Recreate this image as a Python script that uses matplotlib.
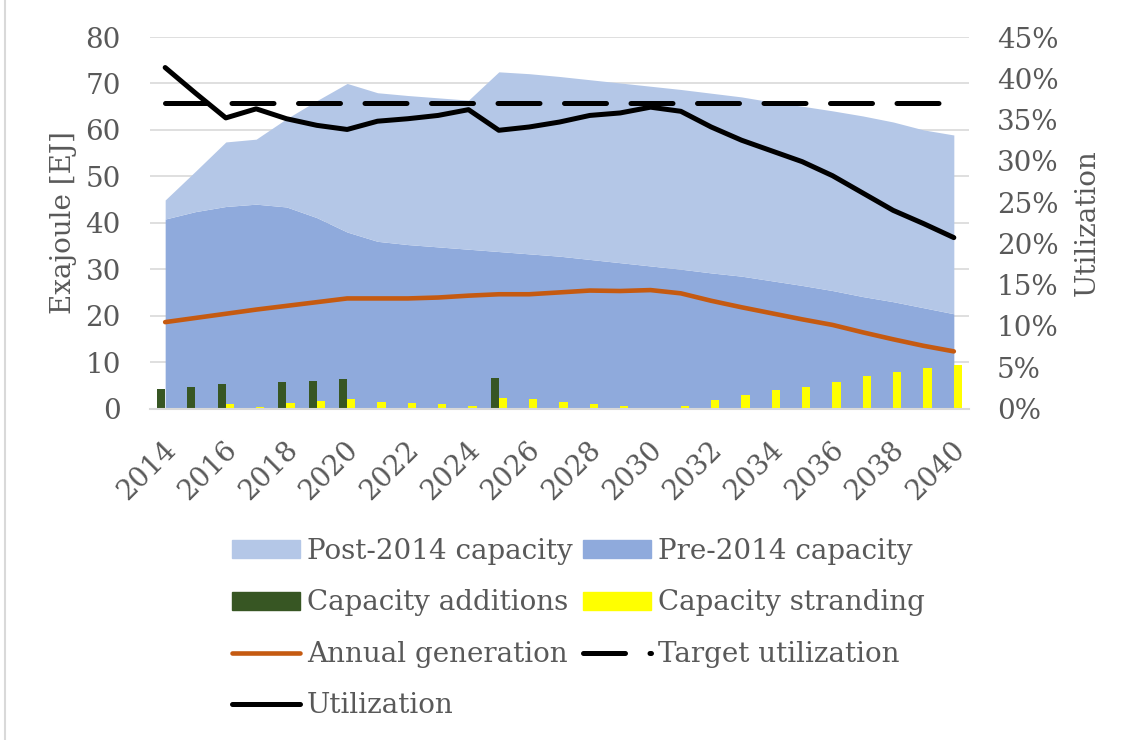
import numpy as np
import matplotlib
matplotlib.use("Agg")
import matplotlib.pyplot as plt
import matplotlib.transforms as mtransforms
from matplotlib.patches import Patch, Rectangle
from matplotlib.lines import Line2D
from matplotlib.ticker import FuncFormatter, MultipleLocator

plt.rcParams['font.family'] = ['DejaVu Serif']

# Datos
years = list(range(2014, 2041))
pre_2014 = [40.8, 42.4, 43.5, 44.0, 43.4, 41.1, 38.0, 36.0, 35.3, 34.8, 34.3, 33.8, 33.3, 32.8,
            32.1, 31.4, 30.7, 30.0, 29.2, 28.5, 27.5, 26.5, 25.4, 24.1, 23.0, 21.7, 20.4]
post_2014 = [4.1, 8.7, 13.9, 14.0, 19.0, 25.2, 32.0, 32.0, 32.1, 32.1, 32.1, 38.7, 38.8, 38.7,
             38.7, 38.7, 38.7, 38.7, 38.7, 38.6, 38.5, 38.6, 38.7, 38.9, 38.7, 38.3, 38.5]
additions = [4.1, 4.6, 5.2, 0, 5.7, 6.0, 6.25, 0, 0, 0, 0, 6.5, 0, 0,
             0, 0, 0, 0, 0, 0, 0, 0, 0, 0, 0, 0, 0]
stranding = [0, 0, 0.9, 0.3, 1.1, 1.7, 2.15, 1.4, 1.15, 0.9, 0.5, 2.3, 2.15, 1.4,
             0.9, 0.6, 0.15, 0.6, 1.8, 2.95, 3.95, 4.6, 5.7, 7.0, 7.9, 8.7, 9.4]
generation = [18.6, 19.5, 20.4, 21.3, 22.1, 22.9, 23.7, 23.7, 23.7, 23.9, 24.3, 24.6, 24.6, 25.0,
              25.4, 25.3, 25.5, 24.8, 23.2, 21.8, 20.5, 19.2, 18.0, 16.4, 14.9, 13.5, 12.3]
target_util = [37.0] * len(years)
utilization = [41.3, 38.2, 35.2, 36.3, 35.1, 34.3, 33.8, 34.8, 35.1, 35.5, 36.2, 33.7, 34.1, 34.7,
               35.5, 35.8, 36.5, 36.0, 34.1, 32.5, 31.2, 29.9, 28.2, 26.1, 24.0, 22.4, 20.7]

c_post = '#B4C7E7'
c_pre = '#8FAADC'
c_add = '#375623'
c_str = '#FFFF00'
c_gen = '#C55A11'
c_txt = '#595959'
c_grid = '#D9D9D9'
FS = 20

x = np.array(years)
pre = np.array(pre_2014)
post = np.array(post_2014)

fig = plt.figure(figsize=(11.31, 7.40), dpi=100)
ax = fig.add_axes([150/1131, 1 - 408.5/740, 819/1131, 371.5/740])

# areas apiladas
ax.fill_between(x, 0, pre, color=c_pre, linewidth=0, zorder=1)
ax.fill_between(x, pre, pre + post, color=c_post, linewidth=0, zorder=1)

# barras
w = 0.27
ax.bar(x - w/2, additions, width=w, color=c_add, zorder=2)
ax.bar(x + w/2, stranding, width=w, color=c_str, zorder=2)

# generacion anual
ax.plot(x, generation, color=c_gen, lw=3.3, solid_capstyle='round', zorder=3)

ax.set_xlim(2013.5, 2040.5)
ax.set_ylim(0, 80)
ax.yaxis.set_major_locator(MultipleLocator(10))
ax.grid(axis='y', color=c_grid, lw=1.2, zorder=0)
ax.set_axisbelow(True)
for s in ['top', 'left', 'right']:
    ax.spines[s].set_visible(False)
ax.spines['bottom'].set_color(c_grid)
ax.spines['bottom'].set_linewidth(1.5)
ax.set_xticks(years[::2])
ax.set_xticklabels([str(y) for y in years[::2]], rotation=45, ha='right', va='center',
                   rotation_mode='anchor', fontsize=FS, color=c_txt)
ax.tick_params(axis='x', length=0, pad=27)
shift = mtransforms.ScaledTranslation(7/100, 0, fig.dpi_scale_trans)
for lab in ax.get_xticklabels():
    lab.set_transform(lab.get_transform() + shift)
ax.tick_params(axis='y', length=0, pad=21, labelsize=FS, labelcolor=c_txt)
ax.set_ylabel('Exajoule [EJ]', fontsize=FS, color=c_txt, labelpad=6)

# eje derecho: utilizacion
ax2 = ax.twinx()
ax2.set_ylim(0, 45)
ax2.yaxis.set_major_locator(MultipleLocator(5))
ax2.yaxis.set_major_formatter(FuncFormatter(lambda v, p: f"{v:.0f}%"))
ax2.plot(x, target_util, color='black', lw=3.6, dashes=(8.4, 4.9), dash_capstyle='round')
ax2.plot(x, utilization, color='black', lw=3.6, solid_capstyle='round', solid_joinstyle='round')
for s in ax2.spines.values():
    s.set_visible(False)
ax2.tick_params(axis='y', length=0, pad=20, labelsize=FS, labelcolor=c_txt)
ax2.set_ylabel('Utilization', fontsize=FS, color=c_txt, labelpad=11)

# leyenda
handles = [
    Patch(color=c_post, label='Post-2014 capacity'),
    Patch(color=c_add, label='Capacity additions'),
    Line2D([], [], color=c_gen, lw=3.3, solid_capstyle='round', label='Annual generation'),
    Line2D([], [], color='black', lw=3.6, solid_capstyle='round', label='Utilization'),
    Patch(color=c_pre, label='Pre-2014 capacity'),
    Patch(color=c_str, label='Capacity stranding'),
    Line2D([], [], color='black', lw=3.6, dashes=(8.4, 4.9), dash_capstyle='round',
           label='Target utilization'),
]
fig.legend(handles=handles, ncol=2, loc='upper left', bbox_to_anchor=(232/1131, 1 - 538/740),
           frameon=False, fontsize=FS, labelcolor=c_txt, handlelength=2.45, handleheight=0.62,
           handletextpad=0.25, columnspacing=0.36, labelspacing=0.88, borderpad=0,
           borderaxespad=0)

# borde del grafico
fig.patches.append(Rectangle((5/1131, -0.02), 1.2, 1.04, transform=fig.transFigure,
                             fill=False, edgecolor=c_grid, lw=1.5))

fig.savefig('out.png', dpi=100)
